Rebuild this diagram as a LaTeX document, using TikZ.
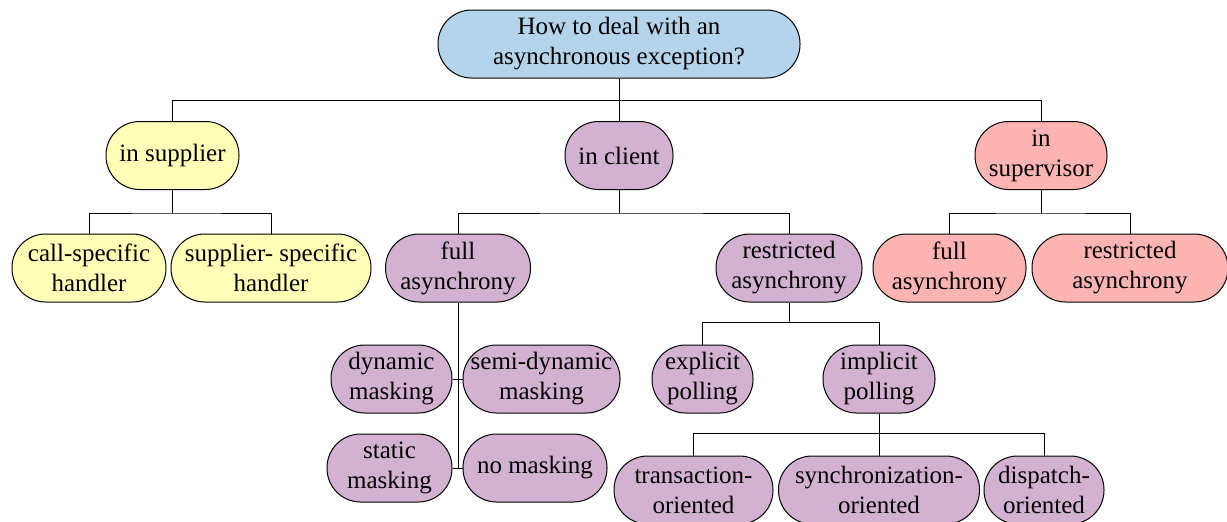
\documentclass[tikz,border=0pt]{standalone}
\usepackage{fontspec}
\setmainfont{Liberation Serif}

\definecolor{askblue}{RGB}{180,212,236}
\definecolor{supyellow}{RGB}{255,255,184}
\definecolor{clipurple}{RGB}{211,178,209}
\definecolor{svrpink}{RGB}{255,180,180}

\tikzset{
  topic/.style={rectangle, rounded corners=16.8pt, draw, line width=0.5pt, align=center,
    minimum height=34pt, inner xsep=1pt, inner ysep=2pt,
    font=\fontsize{12.5}{15}\selectfont},
  link/.style={line width=0.5pt},
}

\begin{document}
\begin{tikzpicture}[x=0.5pt,y=-0.5pt]
\useasboundingbox (0,0) rectangle (1227,521);

% question
\node[topic, fill=askblue, minimum width=181pt] (root) at (619,44) {How to deal with an\\asynchronous exception?};

% where to handle it
\node[topic, fill=supyellow, minimum width=66.5pt] (sup) at (172.5,155.5) {in supplier};
\node[topic, fill=clipurple, minimum width=54pt] (cli) at (619,155.5) {in client};
\node[topic, fill=svrpink, minimum width=66pt] (svr) at (1041,155.5) {in\\supervisor};

% supplier side
\node[topic, fill=supyellow, minimum width=77pt] (csh) at (89,268) {call-specific\\handler};
\node[topic, fill=supyellow, minimum width=100pt] (ssh) at (271,268) {supplier- specific\\handler};

% client side
\node[topic, fill=clipurple, minimum width=72.5pt] (fa) at (458,268) {full\\asynchrony};
\node[topic, fill=clipurple, minimum width=73pt] (ra) at (789,268) {restricted\\asynchrony};

% supervisor side
\node[topic, fill=svrpink, minimum width=76.5pt] (sfa) at (949.5,268) {full\\asynchrony};
\node[topic, fill=svrpink, minimum width=98pt] (sra) at (1130,268) {restricted\\asynchrony};

% masking
\node[topic, fill=clipurple, minimum width=60.5pt] (dyn) at (391.5,379) {dynamic\\masking};
\node[topic, fill=clipurple, minimum width=78.5pt] (sdyn) at (541.5,379) {semi-dynamic\\masking};
\node[topic, fill=clipurple, minimum width=62.5pt] (sta) at (389.5,468) {static\\masking};
\node[topic, fill=clipurple, minimum width=72pt] (nom) at (535,468) {no masking};

% polling
\node[topic, fill=clipurple, minimum width=50.5pt] (exp) at (702.5,379) {explicit\\polling};
\node[topic, fill=clipurple, minimum width=56pt] (imp) at (879,379) {implicit\\polling};

\node[topic, fill=clipurple, minimum width=79.5pt] (tro) at (693.5,490) {transaction-\\oriented};
\node[topic, fill=clipurple, minimum width=100.5pt] (syo) at (879,490) {synchronization-\\oriented};
\node[topic, fill=clipurple, minimum width=60pt] (dio) at (1044,490) {dispatch-\\oriented};

% connectors
\draw[link] (root.south) -- ++(0,22) coordinate (b0);
\draw[link] (sup.north) |- (b0) -| (svr.north);
\draw[link] (b0) -- (cli.north);

\draw[link] (sup.south) -- ++(0,23) coordinate (b1);
\draw[link] (csh.north) |- (b1) -| (ssh.north);

\draw[link] (cli.south) -- ++(0,23) coordinate (b2);
\draw[link] (fa.north) |- (b2) -| (ra.north);

\draw[link] (svr.south) -- ++(0,23) coordinate (b3);
\draw[link] (sfa.north) |- (b3) -| (sra.north);

\draw[link] (fa.south) -- (fa.south |- nom.west);
\draw[link] (dyn.east) -- (sdyn.west);
\draw[link] (sta.east) -- (nom.west);

\draw[link] (ra.south) -- ++(0,20) coordinate (b4);
\draw[link] (exp.north) |- (b4) -| (imp.north);

\draw[link] (imp.south) -- ++(0,20) coordinate (b5);
\draw[link] (tro.north) |- (b5) -| (dio.north);
\draw[link] (b5) -- (syo.north);
\end{tikzpicture}
\end{document}
